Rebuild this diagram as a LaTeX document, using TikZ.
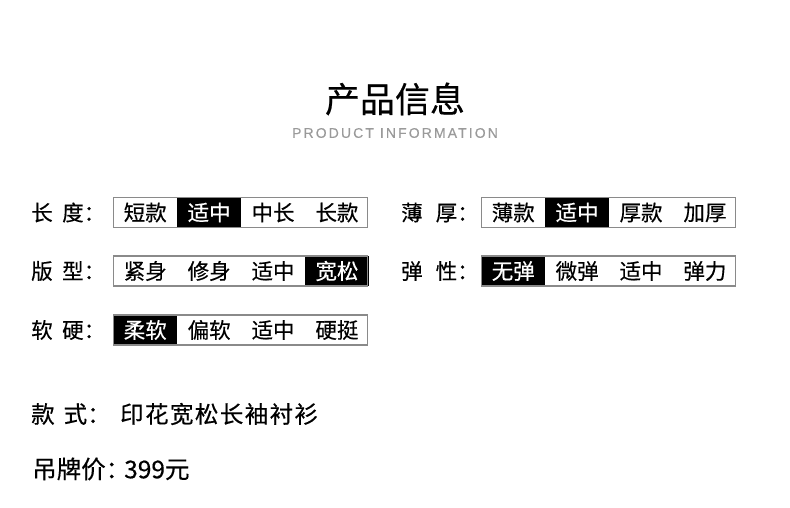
\documentclass[tikz,border=0pt]{standalone}
\usepackage{fontspec}
\setmainfont{Noto Sans CJK SC}[FakeBold=0.4]
\newfontfamily\enfont{Liberation Sans}[FakeBold=0.3]
\usetikzlibrary{positioning}

\definecolor{boxgray}{HTML}{8A8A8A}
\definecolor{subgray}{HTML}{9A9A9A}

\tikzset{
  optbox/.style={draw=boxgray, line width=1.2pt, minimum width=254pt, minimum height=30pt, inner sep=0pt},
  cell/.style={minimum width=63.5pt, minimum height=30pt, inner sep=0pt, font=\fontsize{21.5}{22}\selectfont},
  cellon/.style={cell, fill=black, text=white},
  lbl/.style={anchor=west, inner sep=0pt, font=\fontsize{21.5}{22}\selectfont},
  bigtxt/.style={anchor=west, inner sep=0pt, font=\fontsize{23.5}{24}\selectfont}
}

\begin{document}
\begin{tikzpicture}[x=1pt, y=-1pt]
\useasboundingbox (0,0) rectangle (790,508);

%Title
\node[inner sep=0pt, font=\fontsize{35}{36}\selectfont] (title) at (395,99) {产品信息};
\node[inner sep=0pt, text=subgray, font=\enfont\fontsize{14}{14}\selectfont\addfontfeature{LetterSpace=15}] (subtitle) at (395,133) {PRODUCT INFORMATION};

%Row 1
\node[lbl] (len) at (31,212.5) {长\hspace{9.5pt}度：};
\node[cell] (len1) at (145.25,212.5) {短款};
\node[cellon, right=0pt of len1] (len2) {适中};
\node[cell, right=0pt of len2] (len3) {中长};
\node[cell, right=0pt of len3] (len4) {长款};
\node[optbox] (lenbox) at (240.25,212.5) {};

\node[lbl] (thk) at (401,212.5) {薄\hspace{13pt}厚：};
\node[cell] (thk1) at (513.25,212.5) {薄款};
\node[cellon, right=0pt of thk1] (thk2) {适中};
\node[cell, right=0pt of thk2] (thk3) {厚款};
\node[cell, right=0pt of thk3] (thk4) {加厚};
\node[optbox] (thkbox) at (608.25,212.5) {};

%Row 2
\node[lbl] (fit) at (31,271) {版\hspace{9.5pt}型：};
\node[cell] (fit1) at (145.25,271) {紧身};
\node[cell, right=0pt of fit1] (fit2) {修身};
\node[cell, right=0pt of fit2] (fit3) {适中};
\node[cellon, right=0pt of fit3] (fit4) {宽松};
\node[optbox] (fitbox) at (240.25,271) {};

\node[lbl] (ela) at (401,271) {弹\hspace{13pt}性：};
\node[cellon] (ela1) at (513.25,271) {无弹};
\node[cell, right=0pt of ela1] (ela2) {微弹};
\node[cell, right=0pt of ela2] (ela3) {适中};
\node[cell, right=0pt of ela3] (ela4) {弹力};
\node[optbox] (elabox) at (608.25,271) {};

%Row 3
\node[lbl] (soft) at (31,330) {软\hspace{9.5pt}硬：};
\node[cellon] (soft1) at (145.25,330) {柔软};
\node[cell, right=0pt of soft1] (soft2) {偏软};
\node[cell, right=0pt of soft2] (soft3) {适中};
\node[cell, right=0pt of soft3] (soft4) {硬挺};
\node[optbox] (softbox) at (240.25,330) {};

%Style and price
\node[bigtxt] (sty) at (31,414) {款\hspace{9pt}式：};
\node[bigtxt, font=\fontsize{23.5}{24}\selectfont\addfontfeature{LetterSpace=6}] (styval) at (120,414) {印花宽松长袖衬衫};
\node[bigtxt, font=\fontsize{24.5}{25}\selectfont] (price) at (32,469) {吊牌价：\hspace{-6pt}399元};
\end{tikzpicture}
\end{document}
